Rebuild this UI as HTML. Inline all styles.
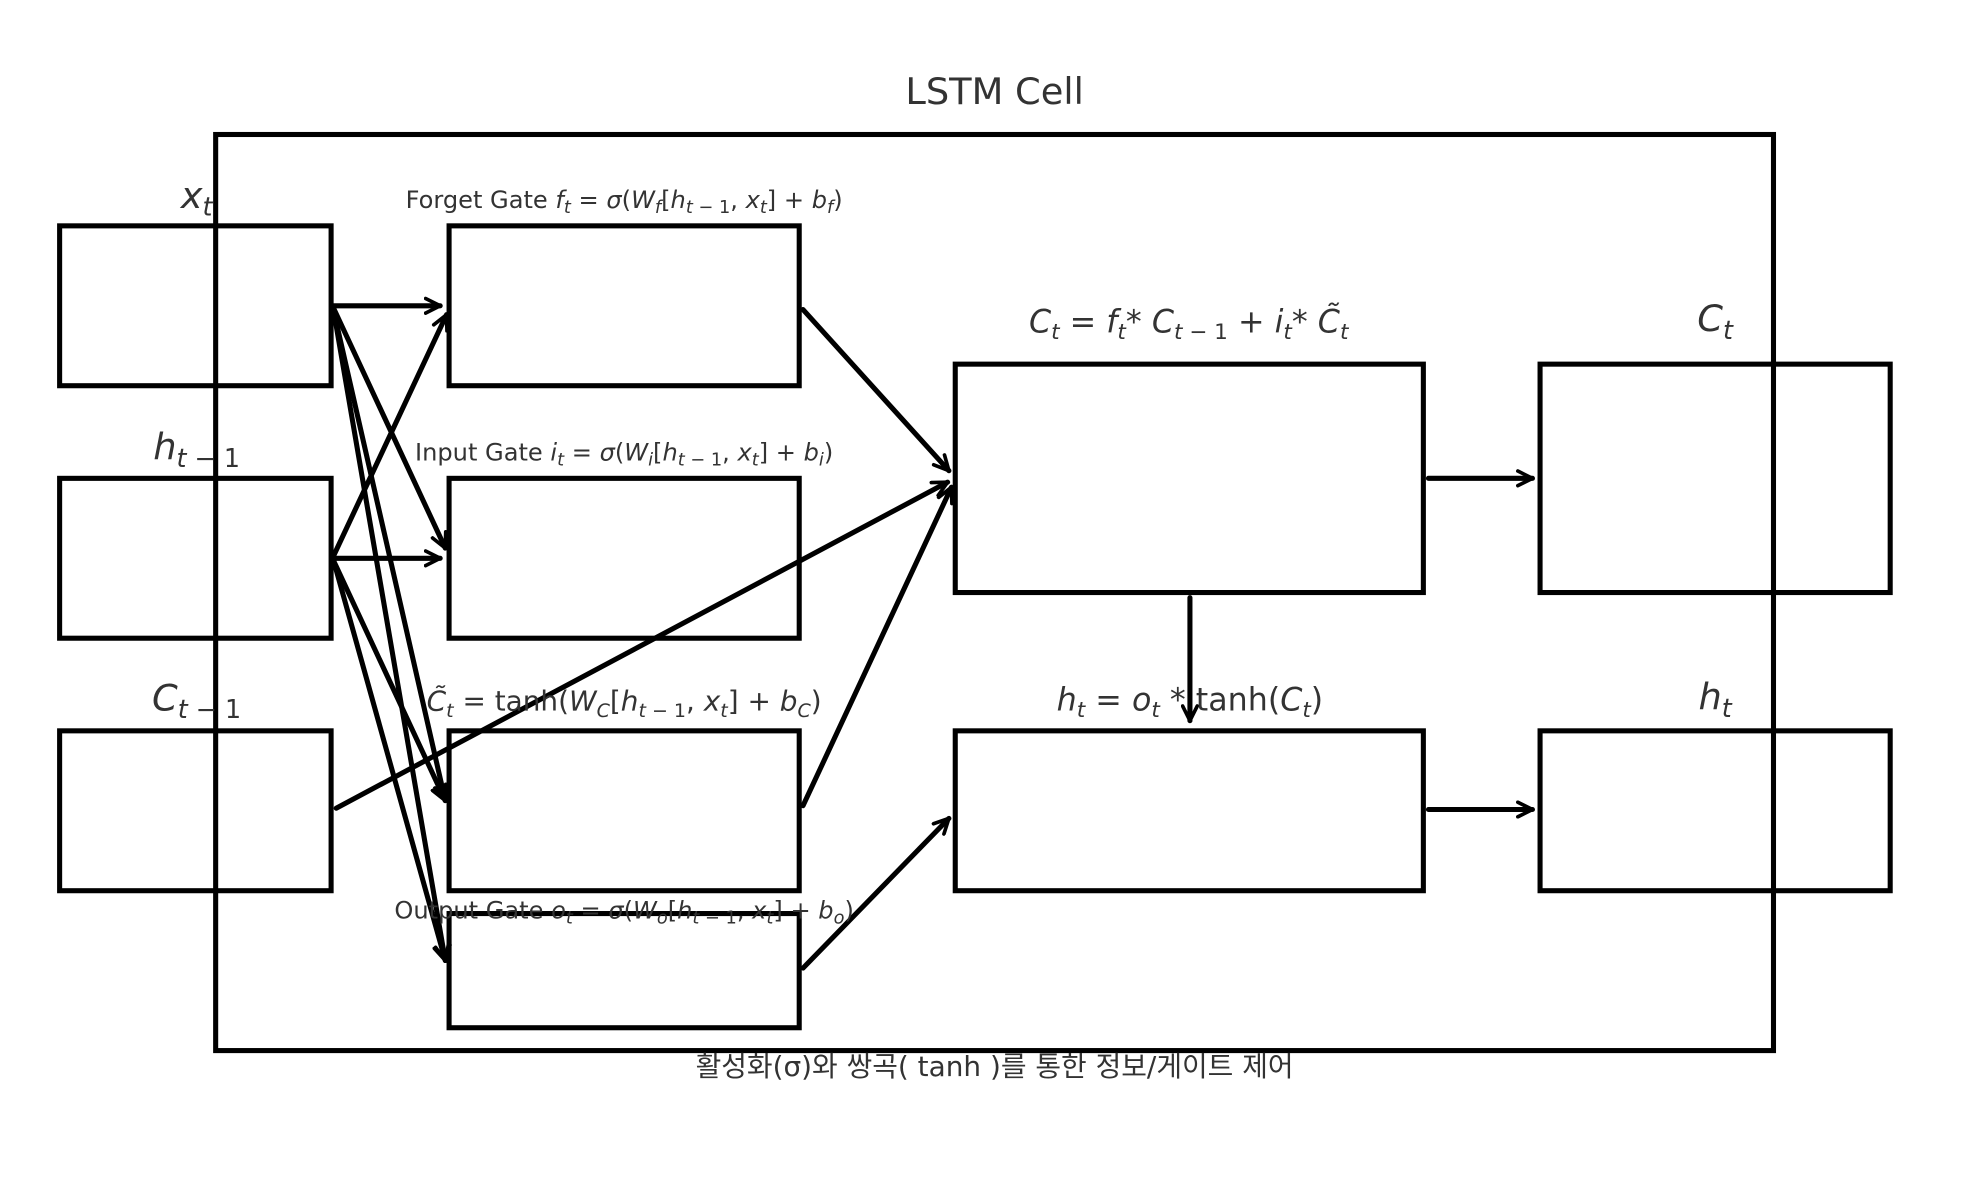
<!DOCTYPE html>
<html><head><meta charset="utf-8"><style>
html,body{margin:0;padding:0;background:#fff;}
svg{display:block;}
text{font-family:"DejaVu Sans","Liberation Sans","Noto Sans CJK KR",sans-serif;fill:#333;}
.i{font-style:italic;}
</style></head><body>
<svg width="1979" height="1180" viewBox="0 0 1560 930" preserveAspectRatio="none" xmlns="http://www.w3.org/2000/svg">
<defs>
<marker id="a" viewBox="0 0 10 10" refX="9" refY="5" markerWidth="3.6" markerHeight="3.6" orient="auto" markerUnits="strokeWidth">
<path d="M1,1 L9,5 L1,9" fill="none" stroke="#000" stroke-width="2" stroke-linecap="round" stroke-linejoin="round"/>
</marker>
</defs>
<g fill="none" stroke="#000" stroke-width="4">
<rect x="170" y="106" width="1228" height="722"/>
<rect x="47" y="178" width="214" height="126"/>
<rect x="47" y="377" width="214" height="126"/>
<rect x="47" y="576" width="214" height="126"/>
<rect x="354" y="178" width="276" height="126"/>
<rect x="354" y="377" width="276" height="126"/>
<rect x="354" y="576" width="276" height="126"/>
<rect x="354" y="720" width="276" height="90"/>
<rect x="753" y="287" width="369" height="180"/>
<rect x="753" y="576" width="369" height="126"/>
<rect x="1214" y="287" width="276" height="180"/>
<rect x="1214" y="576" width="276" height="126"/>
</g>
<g fill="none" stroke="#000" stroke-width="4" marker-end="url(#a)" stroke-linecap="round">
<line x1="263" y1="241" x2="347" y2="241"/>
<line x1="263" y1="243" x2="351" y2="432"/>
<line x1="263" y1="245" x2="351" y2="631"/>
<line x1="263" y1="245" x2="351" y2="757"/>
<line x1="263" y1="438" x2="352" y2="248"/>
<line x1="263" y1="440" x2="347" y2="440"/>
<line x1="263" y1="442" x2="351" y2="631"/>
<line x1="263" y1="442" x2="351" y2="757"/>
<line x1="265" y1="637" x2="747" y2="380"/>
<line x1="633" y1="244" x2="748" y2="371"/>
<line x1="633" y1="635" x2="750" y2="384"/>
<line x1="633" y1="763" x2="748" y2="645"/>
<line x1="938" y1="471" x2="938" y2="568"/>
<line x1="1126" y1="377" x2="1208" y2="377"/>
<line x1="1126" y1="638" x2="1208" y2="638"/>
</g>
<text x="784" y="82" font-size="29" text-anchor="middle">LSTM Cell</text>
<text x="155" y="164" font-size="29" text-anchor="middle"><tspan class="i">x</tspan><tspan class="i" font-size="20" dy="6">t</tspan></text>
<text x="155" y="362" font-size="29" text-anchor="middle"><tspan class="i">h</tspan><tspan font-size="20" dy="6"><tspan class="i">t</tspan> − 1</tspan></text>
<text x="155" y="560" font-size="29" text-anchor="middle"><tspan class="i">C</tspan><tspan font-size="20" dy="6"><tspan class="i">t</tspan> − 1</tspan></text>
<text x="492" y="164" font-size="19" text-anchor="middle">Forget Gate <tspan class="i">f</tspan><tspan class="i" font-size="14" dy="4">t</tspan><tspan dy="-4"> = </tspan><tspan class="i">σ</tspan>(<tspan class="i">W</tspan><tspan class="i" font-size="14" dy="4">f</tspan><tspan dy="-4">[</tspan><tspan class="i">h</tspan><tspan font-size="14" dy="4"><tspan class="i">t</tspan> − 1</tspan><tspan dy="-4">, </tspan><tspan class="i">x</tspan><tspan class="i" font-size="14" dy="4">t</tspan><tspan dy="-4">] + </tspan><tspan class="i">b</tspan><tspan class="i" font-size="14" dy="4">f</tspan><tspan dy="-4">)</tspan></text>
<text x="492" y="363" font-size="19" text-anchor="middle">Input Gate <tspan class="i">i</tspan><tspan class="i" font-size="14" dy="4">t</tspan><tspan dy="-4"> = </tspan><tspan class="i">σ</tspan>(<tspan class="i">W</tspan><tspan class="i" font-size="14" dy="4">i</tspan><tspan dy="-4">[</tspan><tspan class="i">h</tspan><tspan font-size="14" dy="4"><tspan class="i">t</tspan> − 1</tspan><tspan dy="-4">, </tspan><tspan class="i">x</tspan><tspan class="i" font-size="14" dy="4">t</tspan><tspan dy="-4">] + </tspan><tspan class="i">b</tspan><tspan class="i" font-size="14" dy="4">i</tspan><tspan dy="-4">)</tspan></text>
<text x="492" y="560" font-size="22" text-anchor="middle"><tspan class="i">C̃</tspan><tspan class="i" font-size="15" dy="5">t</tspan><tspan dy="-5"> = tanh(</tspan><tspan class="i">W</tspan><tspan class="i" font-size="15" dy="5">C</tspan><tspan dy="-5">[</tspan><tspan class="i">h</tspan><tspan font-size="15" dy="5"><tspan class="i">t</tspan> − 1</tspan><tspan dy="-5">, </tspan><tspan class="i">x</tspan><tspan class="i" font-size="15" dy="5">t</tspan><tspan dy="-5">] + </tspan><tspan class="i">b</tspan><tspan class="i" font-size="15" dy="5">C</tspan><tspan dy="-5">)</tspan></text>
<text x="492" y="724" font-size="19" text-anchor="middle">Output Gate <tspan class="i">o</tspan><tspan class="i" font-size="14" dy="4">t</tspan><tspan dy="-4"> = </tspan><tspan class="i">σ</tspan>(<tspan class="i">W</tspan><tspan class="i" font-size="14" dy="4">o</tspan><tspan dy="-4">[</tspan><tspan class="i">h</tspan><tspan font-size="14" dy="4"><tspan class="i">t</tspan> − 1</tspan><tspan dy="-4">, </tspan><tspan class="i">x</tspan><tspan class="i" font-size="14" dy="4">t</tspan><tspan dy="-4">] + </tspan><tspan class="i">b</tspan><tspan class="i" font-size="14" dy="4">o</tspan><tspan dy="-4">)</tspan></text>
<text x="937" y="262" font-size="25" text-anchor="middle"><tspan class="i">C</tspan><tspan class="i" font-size="17" dy="5">t</tspan><tspan dy="-5"> = </tspan><tspan class="i">f</tspan><tspan class="i" font-size="17" dy="5">t</tspan><tspan dy="-5">* </tspan><tspan class="i">C</tspan><tspan font-size="17" dy="5"><tspan class="i">t</tspan> − 1</tspan><tspan dy="-5"> + </tspan><tspan class="i">i</tspan><tspan class="i" font-size="17" dy="5">t</tspan><tspan dy="-5">* </tspan><tspan class="i">C̃</tspan><tspan class="i" font-size="17" dy="5">t</tspan></text>
<text x="938" y="560" font-size="25" text-anchor="middle"><tspan class="i">h</tspan><tspan class="i" font-size="17" dy="5">t</tspan><tspan dy="-5"> = </tspan><tspan class="i">o</tspan><tspan class="i" font-size="17" dy="5">t</tspan><tspan dy="-5"> * tanh(</tspan><tspan class="i">C</tspan><tspan class="i" font-size="17" dy="5">t</tspan><tspan dy="-5">)</tspan></text>
<text x="1352" y="261" font-size="29" text-anchor="middle"><tspan class="i">C</tspan><tspan class="i" font-size="20" dy="6">t</tspan></text>
<text x="1352" y="559" font-size="29" text-anchor="middle"><tspan class="i">h</tspan><tspan class="i" font-size="20" dy="6">t</tspan></text>
<text x="784" y="848" font-size="22" text-anchor="middle">활성화(σ)와 쌍곡( tanh )를 통한 정보/게이트 제어</text>
</svg>
</body></html>
